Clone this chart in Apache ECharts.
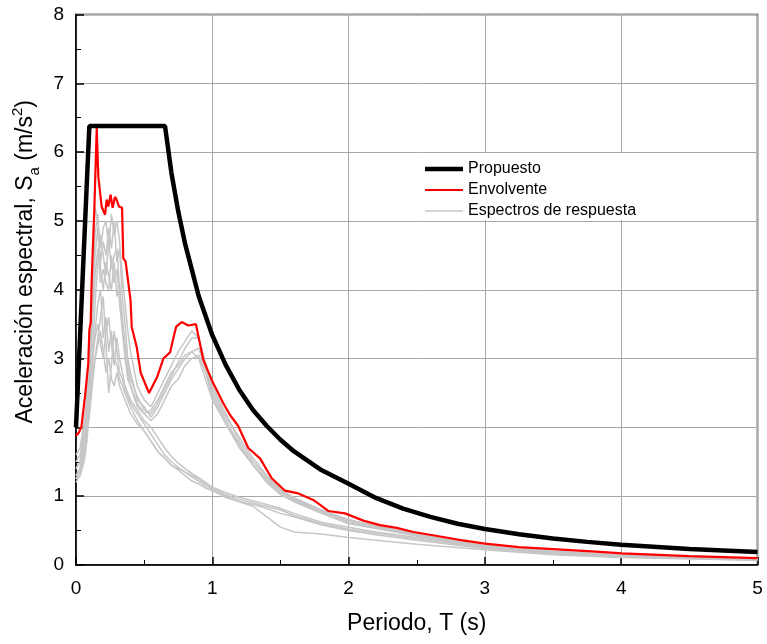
<!DOCTYPE html>
<html><head><meta charset="utf-8">
<script src="https://cdn.jsdelivr.net/npm/echarts@6/dist/echarts.min.js"></script>
<style>html,body{margin:0;padding:0;background:#fff}#c{width:767px;height:644px}</style>
</head><body><div id="c"></div>
<script>
const FONT = 'Liberation Sans, Arial, sans-serif';

const propT  = [0, 0.098, 0.653, 0.7, 0.75, 0.8, 0.9, 1.0, 1.1, 1.2, 1.3, 1.4, 1.5, 1.6, 1.8, 2.0, 2.2, 2.4, 2.6, 2.8, 3.0, 3.25, 3.5, 3.75, 4.0, 4.5, 5.0];
const propSa = [2.0, 6.38, 6.38, 5.70, 5.14, 4.67, 3.91, 3.34, 2.90, 2.54, 2.25, 2.02, 1.82, 1.65, 1.38, 1.18, 0.975, 0.82, 0.70, 0.60, 0.524, 0.447, 0.385, 0.336, 0.295, 0.233, 0.189];

const envT  = [0, 0.02, 0.04, 0.066, 0.078, 0.09, 0.098, 0.108, 0.115, 0.135, 0.152, 0.164, 0.188, 0.213, 0.225, 0.237, 0.254, 0.269, 0.286, 0.298, 0.315, 0.338, 0.347, 0.364, 0.40, 0.409, 0.445, 0.475, 0.536, 0.597, 0.641, 0.69, 0.734, 0.775, 0.824, 0.88, 0.934, 1.007, 1.081, 1.13, 1.19, 1.264, 1.35, 1.436, 1.533, 1.631, 1.741, 1.851, 1.974, 2.108, 2.23, 2.353, 2.475, 2.597, 2.8, 3.0, 3.25, 3.5, 3.844, 4.006, 4.5, 5.0];
const envSa = [1.88, 1.92, 2.01, 2.45, 2.69, 2.93, 3.42, 3.52, 4.14, 5.2, 6.35, 5.64, 5.21, 5.09, 5.31, 5.21, 5.38, 5.19, 5.35, 5.31, 5.21, 5.19, 4.46, 4.41, 3.85, 3.46, 3.17, 2.79, 2.5, 2.74, 3.0, 3.09, 3.46, 3.53, 3.48, 3.5, 2.98, 2.64, 2.35, 2.18, 2.02, 1.7, 1.55, 1.26, 1.08, 1.04, 0.945, 0.785, 0.75, 0.645, 0.58, 0.54, 0.48, 0.44, 0.37, 0.31, 0.26, 0.23, 0.19, 0.17, 0.13, 0.10];

const grayT = [0, 0.03, 0.06, 0.08, 0.1, 0.12, 0.14, 0.16, 0.18, 0.2, 0.22, 0.24, 0.26, 0.28, 0.3, 0.32, 0.34, 0.36, 0.38, 0.4, 0.45, 0.5, 0.55, 0.6, 0.65, 0.7, 0.75, 0.8, 0.85, 0.9, 0.95, 1.0, 1.1, 1.2, 1.3, 1.4, 1.5, 1.6, 1.8, 2.0, 2.2, 2.5, 3.0, 3.5, 4.0, 5.0];
const gray1 = [1.5, 1.6, 2.0, 2.5, 3.2, 4.3, 5.2, 5.0, 4.6, 4.9, 5.0, 4.6, 5.1, 4.8, 5.0, 4.7, 4.2, 3.8, 3.4, 3.1, 2.6, 2.4, 2.3, 2.5, 2.7, 2.9, 3.1, 3.25, 3.4, 3.3, 2.9, 2.55, 2.15, 1.85, 1.55, 1.3, 1.1, 0.98, 0.8, 0.65, 0.57, 0.45, 0.28, 0.2, 0.15, 0.09];
const gray2 = [1.4, 1.5, 1.9, 2.3, 3.0, 3.9, 4.8, 5.1, 4.4, 4.7, 4.5, 4.9, 4.6, 5.0, 4.4, 4.6, 3.9, 3.5, 3.0, 2.8, 2.4, 2.3, 2.15, 2.3, 2.5, 2.7, 2.85, 3.0, 3.1, 3.15, 2.85, 2.5, 2.1, 1.75, 1.45, 1.25, 1.05, 0.95, 0.78, 0.63, 0.55, 0.43, 0.27, 0.19, 0.14, 0.09];
const gray3 = [1.3, 1.4, 1.7, 2.1, 2.7, 3.5, 4.2, 4.6, 4.1, 4.3, 4.1, 4.0, 4.5, 4.1, 4.3, 3.8, 3.4, 3.0, 2.7, 2.6, 2.35, 2.2, 2.1, 2.2, 2.4, 2.6, 2.7, 2.9, 3.0, 3.05, 2.8, 2.45, 2.05, 1.7, 1.45, 1.2, 1.02, 0.92, 0.75, 0.6, 0.53, 0.42, 0.26, 0.18, 0.13, 0.08];
const gray4 = [1.25, 1.35, 1.6, 1.9, 2.4, 3.1, 3.8, 4.4, 4.8, 4.5, 4.2, 4.7, 4.3, 4.5, 4.6, 4.0, 3.6, 3.2, 2.9, 2.7, 2.45, 2.25, 2.2, 2.35, 2.55, 2.75, 2.95, 3.15, 3.3, 3.3, 2.95, 2.6, 2.2, 1.8, 1.5, 1.28, 1.08, 0.96, 0.8, 0.66, 0.56, 0.44, 0.28, 0.19, 0.14, 0.09];
const gray5 = [1.6, 1.7, 2.1, 2.4, 2.9, 3.7, 4.5, 4.9, 4.3, 4.0, 4.4, 4.2, 4.0, 4.4, 3.9, 4.1, 3.5, 3.1, 2.8, 2.6, 2.3, 2.2, 2.25, 2.4, 2.6, 2.8, 2.9, 3.05, 3.1, 3.0, 2.7, 2.4, 2.05, 1.75, 1.45, 1.22, 1.05, 0.93, 0.77, 0.62, 0.54, 0.43, 0.27, 0.19, 0.14, 0.09];
const gray6 = [1.2, 1.3, 1.5, 1.8, 2.3, 2.9, 3.4, 3.8, 4.0, 3.3, 3.6, 3.1, 3.4, 3.0, 2.9, 2.7, 2.6, 2.5, 2.4, 2.3, 2.1, 1.95, 1.8, 1.65, 1.55, 1.45, 1.4, 1.35, 1.3, 1.25, 1.18, 1.12, 1.02, 0.95, 0.9, 0.85, 0.8, 0.72, 0.6, 0.52, 0.46, 0.38, 0.25, 0.17, 0.13, 0.08];
const gray7 = [1.3, 1.4, 1.7, 2.0, 2.5, 2.8, 3.0, 3.3, 3.6, 3.9, 3.2, 2.5, 2.9, 3.4, 3.1, 2.8, 2.7, 2.55, 2.45, 2.35, 2.2, 2.05, 1.9, 1.75, 1.6, 1.5, 1.42, 1.35, 1.28, 1.22, 1.15, 1.1, 1.0, 0.92, 0.88, 0.82, 0.75, 0.7, 0.58, 0.5, 0.44, 0.36, 0.24, 0.16, 0.12, 0.07];
const gray8 = [1.4, 1.5, 1.8, 2.1, 2.6, 3.0, 3.3, 3.5, 3.2, 3.0, 3.4, 3.6, 3.2, 2.9, 3.3, 3.0, 2.8, 2.6, 2.5, 2.4, 2.25, 2.1, 2.0, 1.85, 1.7, 1.58, 1.48, 1.4, 1.33, 1.27, 1.2, 1.13, 1.05, 0.98, 0.93, 0.88, 0.82, 0.75, 0.62, 0.55, 0.48, 0.4, 0.26, 0.18, 0.13, 0.08];
const gray9 = [1.25, 1.35, 1.6, 1.9, 2.2, 2.6, 3.0, 3.2, 3.4, 3.1, 2.8, 3.0, 2.7, 2.6, 2.8, 2.6, 2.5, 2.4, 2.3, 2.2, 2.05, 1.95, 1.8, 1.65, 1.55, 1.45, 1.38, 1.3, 1.22, 1.18, 1.12, 1.08, 0.98, 0.92, 0.85, 0.7, 0.55, 0.48, 0.45, 0.4, 0.36, 0.3, 0.22, 0.15, 0.11, 0.07];
const grays = [gray1, gray2, gray3, gray4, gray5, gray6, gray7, gray8, gray9];

const xTicks = [0, 1, 2, 3, 4, 5];
const yTicks = [0, 1, 2, 3, 4, 5, 6, 7, 8];

const legendNames = ['Propuesto', 'Envolvente', 'Espectros de respuesta'];

const zip = (xs, ys) => xs.map((x, i) => [x, ys[i]]);
const series = [];
grays.forEach(g => series.push({
  name: legendNames[2], type: 'line', data: zip(grayT, g), symbol: 'none',
  lineStyle: { color: '#c6c6c6', width: 1.5 }, itemStyle: { color: '#c6c6c6' }, z: 2
}));
series.push({ name: legendNames[1], type: 'line', data: zip(envT, envSa), symbol: 'none',
  lineStyle: { color: '#ff0000', width: 2.2 }, itemStyle: { color: '#ff0000' }, z: 3 });
series.push({ name: legendNames[0], type: 'line', data: zip(propT, propSa), symbol: 'none',
  lineStyle: { color: '#000000', width: 4.5 }, itemStyle: { color: '#000000' }, z: 4 });

// legend icon: a bar of given thickness inside a 38x16 box
const barIcon = t => 'path://M0,-8L0.001,-8L0,-8Z M0,' + (-t / 2) + 'H38V' + (t / 2) + 'H0Z M0,8L0.001,8L0,8Z';

const axisCommon = {
  type: 'value',
  axisLine: { show: true, onZero: false, lineStyle: { color: '#000', width: 1.5 } },
  axisTick: { show: true, inside: true, length: 8, lineStyle: { color: '#000', width: 1.5 } },
  minorTick: { show: true, splitNumber: 2, length: 5, lineStyle: { color: '#000', width: 1 } },
  splitLine: { show: true, lineStyle: { color: '#a8a8a8', width: 1 } },
};

const chart = echarts.init(document.getElementById('c'), null, { renderer: 'canvas' });
chart.setOption({
  animation: false,
  backgroundColor: '#fff',
  grid: { left: 76, right: 9.5, top: 14.5, bottom: 79, containLabel: false, outerBoundsMode: 'none',
    show: true, borderColor: '#000', borderWidth: 1.5, backgroundColor: 'transparent' },
  legend: {
    data: [
      { name: legendNames[0], icon: barIcon(4.5) },
      { name: legendNames[1], icon: barIcon(2.2) },
      { name: legendNames[2], icon: barIcon(1.5) }
    ],
    orient: 'vertical', left: 420, top: 153, padding: [8, 8, 1, 5],
    itemWidth: 38, itemHeight: 16, itemGap: 5,
    itemStyle: { borderWidth: 0 },
    backgroundColor: '#fff',
    textStyle: { fontFamily: FONT, fontSize: 16, color: '#000' },
    selectedMode: false
  },
  xAxis: Object.assign({}, axisCommon, {
    min: xTicks[0], max: xTicks[xTicks.length - 1], interval: 1,
    axisLabel: { color: '#000', fontSize: 19, fontFamily: FONT, margin: 14 },
    name: 'Periodo, T (s)', nameLocation: 'middle', nameGap: 47,
    nameTextStyle: { color: '#000', fontSize: 23, fontFamily: FONT }
  }),
  yAxis: Object.assign({}, axisCommon, {
    min: yTicks[0], max: yTicks[yTicks.length - 1], interval: 1,
    axisLabel: { color: '#000', fontSize: 19, fontFamily: FONT, margin: 12 },
    name: 'Aceleración espectral, S{sub|a} (m/s{sup|2})', nameLocation: 'middle', nameGap: 34,
    nameTextStyle: {
      color: '#000', fontSize: 23, fontFamily: FONT, lineHeight: 32, padding: [0, 0, 0, 56],
      rich: {
        sub: { fontSize: 15, lineHeight: 15, verticalAlign: 'bottom', fontFamily: FONT, color: '#000' },
        sup: { fontSize: 15, lineHeight: 15, verticalAlign: 'top', fontFamily: FONT, color: '#000' }
      }
    }
  }),
  series: series
});
</script></body></html>
